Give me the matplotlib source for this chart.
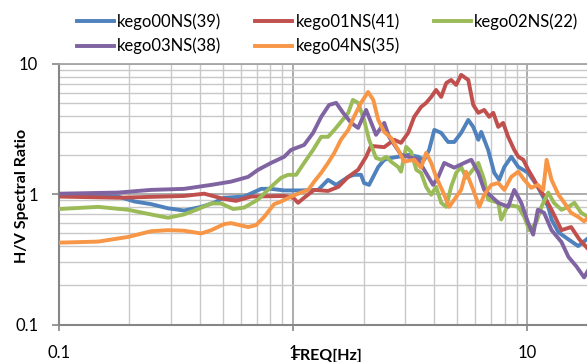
import matplotlib
matplotlib.use("Agg")
import matplotlib.pyplot as plt
from matplotlib.ticker import LogLocator, FixedLocator, FixedFormatter, NullFormatter

plt.rcParams['font.family'] = ['Lato', 'DejaVu Sans']

series_names = ["kego00NS(39)", "kego01NS(41)", "kego02NS(22)", "kego03NS(38)", "kego04NS(35)"]
series_colors = ["#4F81BD", "#C0504D", "#9BBB59", "#8064A2", "#F79646"]

f_kego00 = [0.1, 0.179, 0.210, 0.247, 0.292, 0.342, 0.405, 0.459, 0.507, 0.618,
            0.730, 0.805, 0.916, 1.08, 1.28, 1.41, 1.527, 1.72, 1.82, 1.95,
            2.01, 2.11, 2.31, 2.45, 2.62, 2.81, 3.10, 3.42, 3.63, 3.81,
            4.01, 4.29, 4.59, 4.88, 5.22, 5.60, 5.88, 6.18, 6.36, 6.81,
            7.23, 7.59, 7.98, 8.55, 9.16, 10.1, 11.1, 12.3, 12.7, 13.6,
            15.0, 16.5, 18.2]
v_kego00 = [0.99, 0.96, 0.88, 0.84, 0.78, 0.75, 0.80, 0.86, 0.94, 0.96,
            1.10, 1.10, 1.07, 1.07, 1.08, 1.29, 1.18, 1.36, 1.41, 1.41,
            1.22, 1.18, 1.62, 1.84, 1.90, 1.94, 2.01, 1.94, 1.84, 2.19,
            3.12, 2.96, 2.52, 2.52, 2.96, 3.72, 3.29, 2.62, 3.01, 2.19,
            1.46, 1.29, 1.62, 1.94, 1.62, 1.46, 1.14, 0.80, 0.64, 0.51,
            0.45, 0.40, 0.46]

f_kego01 = [0.1, 0.179, 0.342, 0.417, 0.507, 0.570, 0.662, 0.916, 1.0, 1.05,
            1.114, 1.23, 1.41, 1.56, 1.72, 1.895, 2.05, 2.15, 2.45, 2.70,
            2.89, 3.10, 3.29, 3.52, 3.70, 3.89, 4.08, 4.29, 4.51, 4.73,
            4.97, 5.22, 5.60, 5.88, 6.18, 6.55, 6.88, 7.16, 7.52, 7.89,
            8.29, 8.80, 9.16, 9.62, 10.1, 10.7, 11.1, 11.8, 12.7, 14.0,
            15.4, 16.7, 18.2]
v_kego01 = [0.96, 0.94, 0.97, 1.01, 0.92, 0.89, 0.96, 0.97, 0.94, 0.86,
            0.94, 1.08, 1.06, 1.14, 1.36, 1.54, 1.94, 2.35, 2.30, 2.62,
            2.48, 2.96, 3.93, 4.68, 5.03, 5.59, 6.32, 5.59, 7.15, 7.54,
            6.91, 8.25, 7.54, 4.85, 4.22, 4.44, 3.93, 4.22, 3.29, 3.53,
            2.76, 2.19, 1.94, 1.84, 1.54, 1.29, 1.14, 0.97, 0.76, 0.53,
            0.56, 0.45, 0.38]

f_kego02 = [0.1, 0.147, 0.197, 0.247, 0.292, 0.342, 0.393, 0.447, 0.492, 0.555,
            0.618, 0.708, 0.805, 0.889, 0.952, 1.03, 1.114, 1.217, 1.318, 1.41,
            1.50, 1.60, 1.72, 1.80, 1.895, 2.01, 2.11, 2.26, 2.38, 2.50,
            2.62, 2.81, 2.89, 3.04, 3.19, 3.36, 3.52, 3.70, 3.89, 4.08,
            4.29, 4.51, 4.73, 4.97, 5.22, 5.48, 5.77, 6.18, 6.55, 6.81,
            7.52, 7.74, 8.29, 9.16, 9.71, 10.2, 10.9, 11.5, 12.3, 13.0,
            14.0, 15.0, 15.9, 17.0, 18.2]
v_kego02 = [0.77, 0.80, 0.76, 0.70, 0.66, 0.70, 0.77, 0.85, 0.85, 0.77,
            0.79, 0.91, 1.14, 1.34, 1.41, 1.41, 1.74, 2.19, 2.76, 2.76,
            3.12, 3.59, 4.22, 5.30, 5.03, 3.72, 2.62, 1.90, 1.84, 1.94,
            1.78, 1.62, 1.49, 2.31, 2.12, 1.54, 1.46, 1.14, 0.99, 1.14,
            0.86, 0.80, 1.14, 1.46, 1.62, 1.34, 1.49, 1.74, 1.29, 0.91,
            0.86, 0.64, 0.83, 0.80, 0.67, 0.53, 0.60, 0.80, 1.03, 0.86,
            0.76, 0.80, 0.86, 0.72, 0.67]

f_kego03 = [0.1, 0.179, 0.247, 0.342, 0.447, 0.543, 0.643, 0.708, 0.805, 0.916,
            0.98, 1.114, 1.217, 1.318, 1.425, 1.527, 1.635, 1.77, 1.895, 2.05,
            2.26, 2.45, 2.57, 2.89, 3.10, 3.42, 3.63, 3.96, 4.17, 4.42,
            4.88, 5.38, 5.77, 6.18, 6.55, 7.52, 8.29, 8.80, 9.43, 10.1,
            10.6, 11.1, 11.8, 12.7, 14.0, 15.0, 16.2, 17.5, 18.2]
v_kego03 = [1.01, 1.03, 1.08, 1.10, 1.18, 1.25, 1.36, 1.54, 1.74, 1.94,
            2.19, 2.39, 2.96, 3.93, 4.85, 5.03, 4.22, 3.53, 3.23, 4.44,
            2.86, 3.53, 2.76, 2.01, 1.94, 1.84, 1.54, 1.18, 1.36, 1.74,
            1.60, 1.74, 1.84, 1.46, 1.08, 0.86, 0.80, 1.08, 0.86, 0.60,
            0.49, 0.76, 0.72, 0.53, 0.43, 0.33, 0.28, 0.23, 0.26]

f_kego04 = [0.1, 0.147, 0.197, 0.247, 0.292, 0.342, 0.405, 0.447, 0.507, 0.543,
            0.643, 0.695, 0.752, 0.830, 0.889, 0.98, 1.08, 1.16, 1.23, 1.318,
            1.41, 1.50, 1.60, 1.72, 1.82, 1.95, 2.09, 2.20, 2.31, 2.45,
            2.62, 2.81, 2.98, 3.29, 3.52, 3.70, 3.89, 4.08, 4.38, 4.64,
            4.88, 5.22, 5.48, 5.88, 6.24, 6.55, 7.02, 7.52, 7.98, 8.55,
            9.16, 9.71, 10.4, 11.1, 11.7, 12.1, 12.7, 13.6, 14.4, 15.4,
            16.5, 17.5, 18.2]
v_kego04 = [0.425, 0.433, 0.47, 0.52, 0.53, 0.525, 0.50, 0.53, 0.59, 0.60,
            0.56, 0.58, 0.67, 0.84, 0.88, 0.96, 1.03, 1.08, 1.25, 1.46,
            1.74, 2.08, 2.62, 3.12, 3.93, 5.03, 6.10, 5.30, 3.72, 3.01,
            2.71, 2.19, 1.78, 1.84, 1.60, 2.08, 1.74, 1.36, 1.03, 0.80,
            0.91, 1.08, 1.49, 1.08, 0.80, 0.99, 1.18, 1.22, 1.08, 1.36,
            1.49, 1.29, 1.12, 1.18, 1.08, 1.84, 1.29, 0.99, 0.86, 0.72,
            0.67, 0.62, 0.66]

freqs = [f_kego00, f_kego01, f_kego02, f_kego03, f_kego04]
vals = [v_kego00, v_kego01, v_kego02, v_kego03, v_kego04]

x_ticks = [0.1, 1, 10]
x_tick_labels = ["0.1", "1", "10"]
y_ticks = [0.1, 1, 10]
y_tick_labels = ["0.1", "1", "10"]

W, H = 587, 362
fig = plt.figure(figsize=(W / 100, H / 100), dpi=100)
ax = fig.add_axes([59 / W, (H - 324.5) / H, (W - 59) / W, (324.5 - 64) / H])

lines = []
for fr, vv, name, col in zip(freqs, vals, series_names, series_colors):
    ln, = ax.plot(fr, vv, color=col, lw=2.8, label=name, solid_joinstyle='round', zorder=3)
    lines.append(ln)

ax.set_xscale('log')
ax.set_yscale('log')
ax.set_xlim(0.1, 18.0)
ax.set_ylim(0.1, 10)

ax.xaxis.set_major_locator(FixedLocator(x_ticks))
ax.xaxis.set_major_formatter(FixedFormatter(x_tick_labels))
ax.yaxis.set_major_locator(FixedLocator(y_ticks))
ax.yaxis.set_major_formatter(FixedFormatter(y_tick_labels))
ax.xaxis.set_minor_locator(LogLocator(base=10, subs=range(2, 10)))
ax.yaxis.set_minor_locator(LogLocator(base=10, subs=range(2, 10)))
ax.xaxis.set_minor_formatter(NullFormatter())
ax.yaxis.set_minor_formatter(NullFormatter())

ax.grid(which='major', color='#A6A6A6', lw=1.3, zorder=1)
ax.grid(which='minor', color='#C8C8C8', lw=1.0, zorder=1)
ax.set_axisbelow(True)

ax.spines['right'].set_visible(False)
ax.spines['top'].set_color('#A6A6A6')
ax.spines['top'].set_linewidth(1.3)
for s in ['left', 'bottom']:
    ax.spines[s].set_color('#868686')
    ax.spines[s].set_linewidth(1.5)

ax.tick_params(axis='both', which='minor', length=0)
ax.tick_params(axis='y', which='major', direction='out', length=5, width=1.2,
               color='#868686', pad=10, labelsize=12)
ax.tick_params(axis='x', which='major', direction='out', length=4.5, width=1.2,
               color='#868686', pad=10, labelsize=12)

fig.text(22 / W, (H - 196) / H, "H/V Spectral Ratio", rotation=90, fontsize=11.5,
         fontweight='bold', ha='center', va='center')
fig.text(327 / W, (H - 349) / H, "FREQ[Hz]", fontsize=11.5, fontweight='bold',
         ha='center', va='top')

# row-wise legend order: matplotlib fills columns first
order = [0, 3, 1, 4, 2]
fig.legend(handles=[lines[i] for i in order], loc='upper left',
           bbox_to_anchor=(77 / W, 1 - 13 / H),
           ncol=3, frameon=False, fontsize=12, handlelength=2.2, handletextpad=0.2,
           columnspacing=2.05, labelspacing=0.5, borderaxespad=0, borderpad=0)

fig.savefig("out.png", dpi=100)
